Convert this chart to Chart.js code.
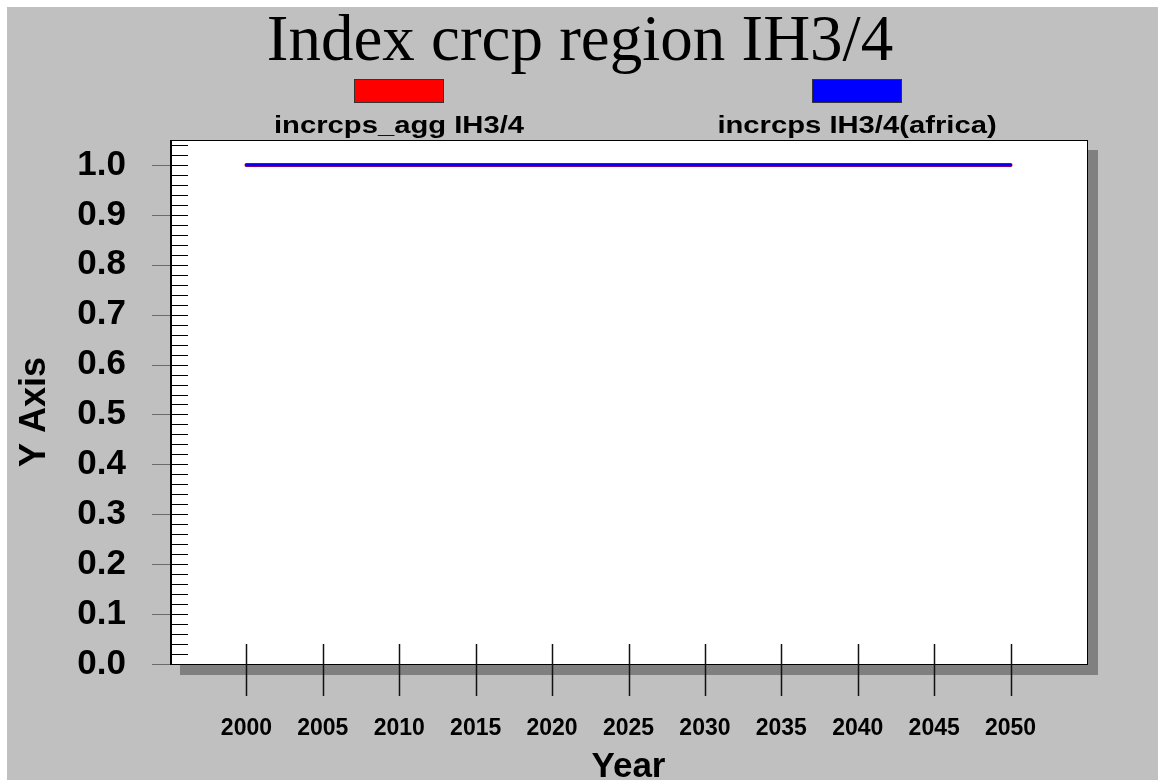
<!DOCTYPE html>
<html lang="en">
  <head>
    <title>Index crcp region IH3/4</title>
    <script src="https://cdn.jsdelivr.net/npm/chart.js"></script>
    <style>
      html, body { margin: 0; padding: 0; background: #ffffff; }
      #wrap { width: 1158px; height: 780px; }
    </style>
  </head>
  <body>
    <div id="wrap"><canvas id="crcpChart" width="1158" height="780"></canvas></div>

    <script>
      // chart data
      const chartTitle = "Index crcp region IH3/4";
      const yAxisTitle = "Y Axis";
      const years = [2000, 2005, 2010, 2015, 2020, 2025, 2030, 2035, 2040, 2045, 2050];
      const aggValues = [1.0, 1.0, 1.0, 1.0, 1.0, 1.0, 1.0, 1.0, 1.0, 1.0, 1.0];
      const africaValues = [1.0, 1.0, 1.0, 1.0, 1.0, 1.0, 1.0, 1.0, 1.0, 1.0, 1.0];
      const seriesNames = ["incrcps_agg IH3/4", "incrcps IH3/4(africa)"];
      const seriesColors = ["#ff0000", "#0000ff"];
      const xTicks = [2000, 2005, 2010, 2015, 2020, 2025, 2030, 2035, 2040, 2045, 2050];
      const yTicks = [0.0, 0.1, 0.2, 0.3, 0.4, 0.5, 0.6, 0.7, 0.8, 0.9, 1.0];

      const AREA = { left: 170, top: 140, right: 1087, bottom: 664 };

      // background, shadow, white plot box, title, legend
      const framePlugin = {
        id: "frame",
        beforeDraw(chart) {
          const c = chart.ctx;
          const a = chart.chartArea;
          c.save();
          c.fillStyle = "#ffffff";
          c.fillRect(0, 0, chart.width, chart.height);
          c.fillStyle = "#c0c0c0";
          c.fillRect(7, 7, chart.width - 7, chart.height - 7);
          c.fillStyle = "#808080";
          c.fillRect(a.left + 10, a.top + 10, a.right - a.left + 1, a.bottom - a.top + 1);
          c.fillStyle = "#ffffff";
          c.fillRect(a.left, a.top, a.right - a.left, a.bottom - a.top);
          c.restore();

          // title
          c.save();
          c.fillStyle = "#000000";
          c.font = "65px 'Liberation Serif', 'Times New Roman', serif";
          c.textAlign = "center";
          c.textBaseline = "alphabetic";
          c.fillText(chartTitle, 580, 60);
          c.restore();

          // y axis title
          c.save();
          c.translate(45, 412);
          c.rotate(-Math.PI / 2);
          c.fillStyle = "#000000";
          c.font = "bold 36px 'Liberation Sans', Arial, sans-serif";
          c.textAlign = "center";
          c.textBaseline = "alphabetic";
          c.fillText(yAxisTitle, 0, 0);
          c.restore();

          // legend: colour box over label
          const centers = [399, 857];
          chart.data.datasets.forEach(function (ds, i) {
            const cx = centers[i];
            c.save();
            c.fillStyle = ds.borderColor;
            c.fillRect(cx - 45, 79, 90, 24);
            c.strokeStyle = "#333333";
            c.lineWidth = 1;
            c.strokeRect(cx - 44.5, 79.5, 89, 23);
            c.translate(cx, 133);
            c.scale(1.27, 1);
            c.fillStyle = "#000000";
            c.font = "bold 23px 'Liberation Sans', Arial, sans-serif";
            c.textAlign = "center";
            c.textBaseline = "alphabetic";
            c.fillText(ds.label, 0, 0);
            c.restore();
          });
        },
        afterDatasetsDraw(chart) {
          const c = chart.ctx;
          const a = chart.chartArea;
          const ys = chart.scales.y;
          const xs = chart.scales.x;
          c.save();
          // y minor + major ticks
          for (let k = 0; k <= 52; k++) {
            const v = k * 0.02;
            const py = Math.round(ys.getPixelForValue(v)) + 0.5;
            const major = k % 5 === 0;
            c.strokeStyle = "#000000";
            c.lineWidth = 1;
            c.beginPath();
            c.moveTo(a.left, py);
            c.lineTo(a.left + 18, py);
            c.stroke();
            if (major) {
              c.strokeStyle = "#6a6a6a";
              c.beginPath();
              c.moveTo(a.left - 18, py);
              c.lineTo(a.left, py);
              c.stroke();
            }
          }
          // frame
          c.strokeStyle = "#000000";
          c.lineWidth = 1;
          c.strokeRect(a.left + 0.5, a.top + 0.5, a.right - a.left, a.bottom - a.top);
          c.beginPath();
          c.moveTo(a.left + 1.5, a.top);
          c.lineTo(a.left + 1.5, a.bottom);
          c.stroke();
          // x ticks crossing the bottom axis
          xTicks.forEach(function (t) {
            const px = Math.round(xs.getPixelForValue(t)) + 0.5;
            c.strokeStyle = "#111111";
            c.lineWidth = 1.5;
            c.beginPath();
            c.moveTo(px, a.bottom - 20);
            c.lineTo(px, a.bottom + 32);
            c.stroke();
          });
          c.restore();
        },
      };

      const ctx = document.getElementById("crcpChart").getContext("2d");
      const chart = new Chart(ctx, {
        type: "line",
        data: {
          datasets: [
            {
              label: seriesNames[0],
              data: years.map((y, i) => ({ x: y, y: aggValues[i] })),
              borderColor: seriesColors[0],
              backgroundColor: seriesColors[0],
              borderWidth: 4,
              borderCapStyle: "round",
              pointRadius: 0,
              tension: 0,
              order: 2,
            },
            {
              label: seriesNames[1],
              data: years.map((y, i) => ({ x: y, y: africaValues[i] })),
              borderColor: seriesColors[1],
              backgroundColor: seriesColors[1],
              borderWidth: 3,
              borderCapStyle: "round",
              pointRadius: 0,
              tension: 0,
              order: 1,
            },
          ],
        },
        options: {
          responsive: false,
          animation: false,
          devicePixelRatio: 1,
          layout: {
            padding: { top: AREA.top, right: 1158 - AREA.right, bottom: 0, left: 0 },
          },
          plugins: {
            legend: { display: false },
            title: { display: false },
            tooltip: { enabled: false },
          },
          scales: {
            x: {
              type: "linear",
              min: 1995,
              max: 2055,
              grid: { display: false },
              border: { display: false },
              afterBuildTicks(scale) {
                scale.ticks = xTicks.map((v) => ({ value: v }));
              },
              afterFit(scale) {
                scale.height = 780 - AREA.bottom;
              },
              ticks: {
                autoSkip: false,
                maxRotation: 0,
                padding: 43,
                color: "#000000",
                font: { family: "'Liberation Sans', Arial, sans-serif", size: 23, weight: "bold" },
                callback: (v) => String(v),
              },
              title: {
                display: true,
                text: "Year",
                color: "#000000",
                padding: 0,
                font: { family: "'Liberation Sans', Arial, sans-serif", size: 35, weight: "bold", lineHeight: 0.7 },
              },
            },
            y: {
              type: "linear",
              min: 0,
              max: 1.05,
              grid: { display: false },
              border: { display: false },
              afterBuildTicks(scale) {
                scale.ticks = yTicks.map((v) => ({ value: v }));
              },
              afterFit(scale) {
                scale.width = AREA.left;
              },
              ticks: {
                autoSkip: false,
                padding: 36,
                color: "#000000",
                font: { family: "'Liberation Sans', Arial, sans-serif", size: 35, weight: "bold" },
                callback: (v) => Number(v).toFixed(1),
              },
            },
          },
        },
        plugins: [framePlugin],
      });
    </script>
  </body>
</html>
